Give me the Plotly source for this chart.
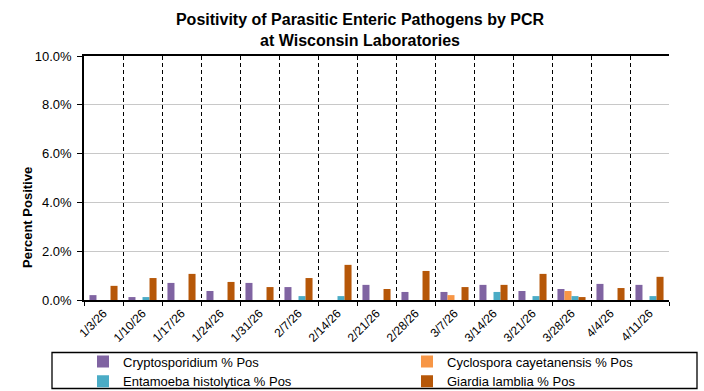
import plotly.graph_objects as go

weeks = ["1/3/26", "1/10/26", "1/17/26", "1/24/26", "1/31/26", "2/7/26", "2/14/26",
         "2/21/26", "2/28/26", "3/7/26", "3/14/26", "3/21/26", "3/28/26", "4/4/26", "4/11/26"]

crypto = [0.20, 0.12, 0.70, 0.37, 0.70, 0.53, 0.00, 0.62, 0.33, 0.33, 0.62, 0.37, 0.45, 0.66, 0.62]
cyclo = [0.00, 0.00, 0.00, 0.00, 0.00, 0.00, 0.00, 0.00, 0.00, 0.20, 0.00, 0.00, 0.37, 0.00, 0.00]
entam = [0.00, 0.12, 0.00, 0.00, 0.00, 0.16, 0.16, 0.00, 0.00, 0.00, 0.33, 0.16, 0.16, 0.00, 0.16]
giardia = [0.58, 0.90, 1.07, 0.74, 0.53, 0.90, 1.44, 0.45, 1.19, 0.53, 0.62, 1.07, 0.12, 0.49, 0.95]

series = [
    ("Cryptosporidium % Pos", crypto, "#8064A2"),
    ("Cyclospora cayetanensis % Pos", cyclo, "#F79646"),
    ("Entamoeba histolytica % Pos", entam, "#4BACC6"),
    ("Giardia lamblia % Pos", giardia, "#B65708"),
]

FONT = "Arial, 'Liberation Sans', sans-serif"
W, H = 704, 391
L, R, T, B = 84, 35, 56, 91
PW, PH = W - L - R, H - T - B


def px_x(x):
    return (x - L) / PW


def px_y(y):
    return (H - B - y) / PH


fig = go.Figure()
for name, vals, color in series:
    fig.add_trace(go.Bar(
        x=weeks, y=[v / 100 for v in vals], name=name,
        marker=dict(color=color, line=dict(width=0)),
    ))

fig.update_layout(
    width=W, height=H,
    barmode="group", bargap=0.28, bargroupgap=0,
    paper_bgcolor="white", plot_bgcolor="white",
    font=dict(family=FONT, size=12, color="black"),
    margin=dict(l=L, r=R, t=T, b=B, autoexpand=False),
    title=dict(
        text="<b>Positivity of Parasitic Enteric Pathogens by PCR<br>at Wisconsin Laboratories</b>",
        x=360 / W, xref="container", xanchor="center",
        y=1 - 25 / H, yref="container", yanchor="top",
        font=dict(family=FONT, size=16, color="black"),
    ),
    xaxis=dict(
        type="category", tickson="boundaries",
        showgrid=True, gridcolor="black", gridwidth=1, griddash="4px,3px",
        showline=True, linecolor="black", linewidth=1.5, mirror=True,
        ticks="outside", ticklen=4, tickcolor="black",
        tickangle=-45, tickfont=dict(size=12),
    ),
    yaxis=dict(
        range=[0, 0.1], dtick=0.02, tickformat=".1%",
        showgrid=True, gridcolor="#C8C8C8", gridwidth=1,
        showline=True, linecolor="black", linewidth=1.5,
        zeroline=False,
        ticks="outside", ticklen=5, tickcolor="black",
        tickfont=dict(size=13), ticklabelstandoff=3,
    ),
    legend=dict(
        orientation="h", x=px_x(83), xanchor="left", y=px_y(346.5), yanchor="top",
        xref="paper", yref="paper",
        entrywidth=279, entrywidthmode="pixels",
        borderwidth=0, bgcolor="rgba(0,0,0,0)",
        font=dict(size=13), itemwidth=30,
        traceorder="normal", tracegroupgap=0,
    ),
    annotations=[dict(
        text="<b>Percent Positive</b>", textangle=-90,
        x=px_x(27), y=px_y(218), xref="paper", yref="paper",
        xanchor="center", yanchor="middle", showarrow=False,
        font=dict(size=13),
    )],
    shapes=[dict(
        type="rect", xref="paper", yref="paper", layer="above",
        x0=px_x(52), x1=px_x(697), y0=px_y(352.5), y1=px_y(388.5),
        line=dict(color="black", width=1.3), fillcolor="rgba(0,0,0,0)",
    )],
)

fig.write_html(
    "out.html",
    config={"displayModeBar": False},
    post_script="document.body.style.margin='0';document.body.style.padding='0';"
                "document.body.style.overflow='hidden';",
)
